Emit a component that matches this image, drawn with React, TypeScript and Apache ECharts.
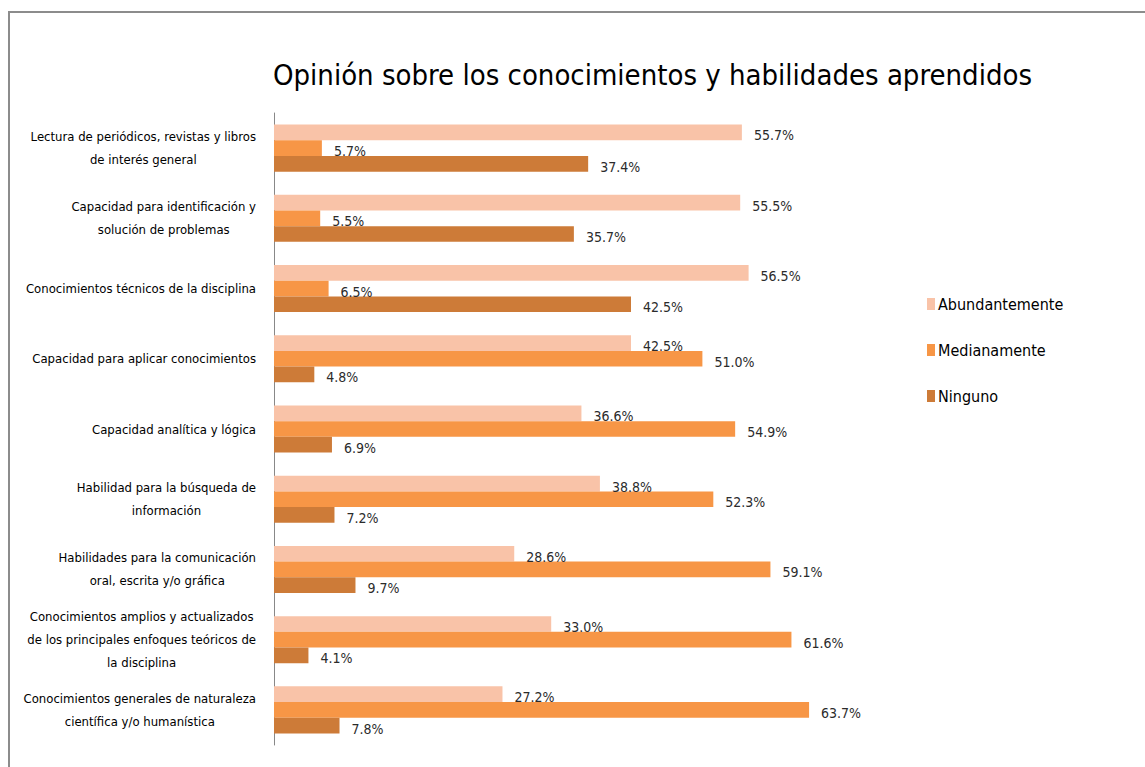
import React, { useEffect, useRef } from "react";
import * as echarts from "echarts";

const categories = [
  "Lectura de periódicos, revistas y libros\nde interés general",
  "Capacidad para identificación y\nsolución de problemas",
  "Conocimientos técnicos de la disciplina",
  "Capacidad para aplicar conocimientos",
  "Capacidad analítica y lógica",
  "Habilidad para la búsqueda de\ninformación",
  "Habilidades para la comunicación\noral, escrita y/o gráfica",
  "Conocimientos amplios y actualizados\nde los principales enfoques teóricos de\nla disciplina",
  "Conocimientos generales de naturaleza\ncientífica y/o humanística",
];

const abundantemente = [55.7, 55.5, 56.5, 42.5, 36.6, 38.8, 28.6, 33.0, 27.2];
const medianamente = [5.7, 5.5, 6.5, 51.0, 54.9, 52.3, 59.1, 61.6, 63.7];
const ninguno = [37.4, 35.7, 42.5, 4.8, 6.9, 7.2, 9.7, 4.1, 7.8];

const seriesNames = ["Abundantemente", "Medianamente", "Ninguno"];
const colors = ["#F9C3A8", "#F79646", "#CD7B38"];

const FONT = "'Liberation Sans Narrow', 'DejaVu Sans Condensed', 'Noto Sans', sans-serif";

export default function App() {
  const ref = useRef<HTMLDivElement>(null);

  useEffect(() => {
    if (!ref.current) return;
    const chart = echarts.init(ref.current, null, { renderer: "svg" });
    const values = [abundantemente, medianamente, ninguno];
    const labelStyle = {
      show: true,
      position: "right" as const,
      distance: 12,
      offset: [0, 3],
      fontFamily: FONT,
      fontSize: 14,
      color: "#2b2b2b",
      formatter: (p: any) => `${Number(p.value).toFixed(1)}%`,
    };
    chart.setOption({
      animation: false,
      backgroundColor: "#ffffff",
      title: {
        text: "Opinión sobre los conocimientos y habilidades aprendidos",
        left: 268,
        top: 55,
        textStyle: {
          fontFamily: FONT,
          fontSize: 29,
          fontWeight: "normal",
          color: "#000000",
        },
      },
      legend: {
        orient: "vertical",
        left: 922,
        top: 291,
        itemGap: 30,
        itemWidth: 8,
        itemHeight: 12,
        icon: "rect",
        data: seriesNames,
        textStyle: {
          fontFamily: FONT,
          fontSize: 16,
          color: "#000000",
          padding: [0, 0, 0, -2],
        },
      },
      grid: {
        left: 274,
        top: 113,
        width: 588,
        height: 632,
        containLabel: false,
      },
      xAxis: {
        type: "value",
        min: 0,
        max: 70,
        show: false,
        splitLine: { show: false },
      },
      yAxis: {
        type: "category",
        data: categories,
        inverse: true,
        axisLine: { show: true, lineStyle: { color: "#888888", width: 1 } },
        axisTick: { show: false },
        axisLabel: {
          margin: 18,
          align: "right",
          fontFamily: FONT,
          fontSize: 13,
          color: "#000000",
          lineHeight: 23,
          formatter: (v: string) =>
            v
              .split("\n")
              .map((l) => `{c|${l}}`)
              .join("\n"),
          rich: {
            c: {
              align: "center",
              fontFamily: FONT,
              fontSize: 13,
              color: "#000000",
              lineHeight: 23,
            },
          },
        },
      },
      series: seriesNames.map((name, i) => ({
        name,
        type: "bar",
        data: values[i],
        barGap: "0%",
        barCategoryGap: "33%",
        itemStyle: { color: colors[i] },
        label: labelStyle,
      })),
      graphic: [
        {
          type: "rect",
          shape: { x: 9, y: 12, width: 1200, height: 800 },
          style: { fill: "none", stroke: "#8c8c8c", lineWidth: 2 },
          silent: true,
        },
      ],
    });
    return () => chart.dispose();
  }, []);

  return (
    <div
      ref={ref}
      style={{ position: "fixed", left: 0, top: 0, width: 1145, height: 767 }}
    />
  );
}
